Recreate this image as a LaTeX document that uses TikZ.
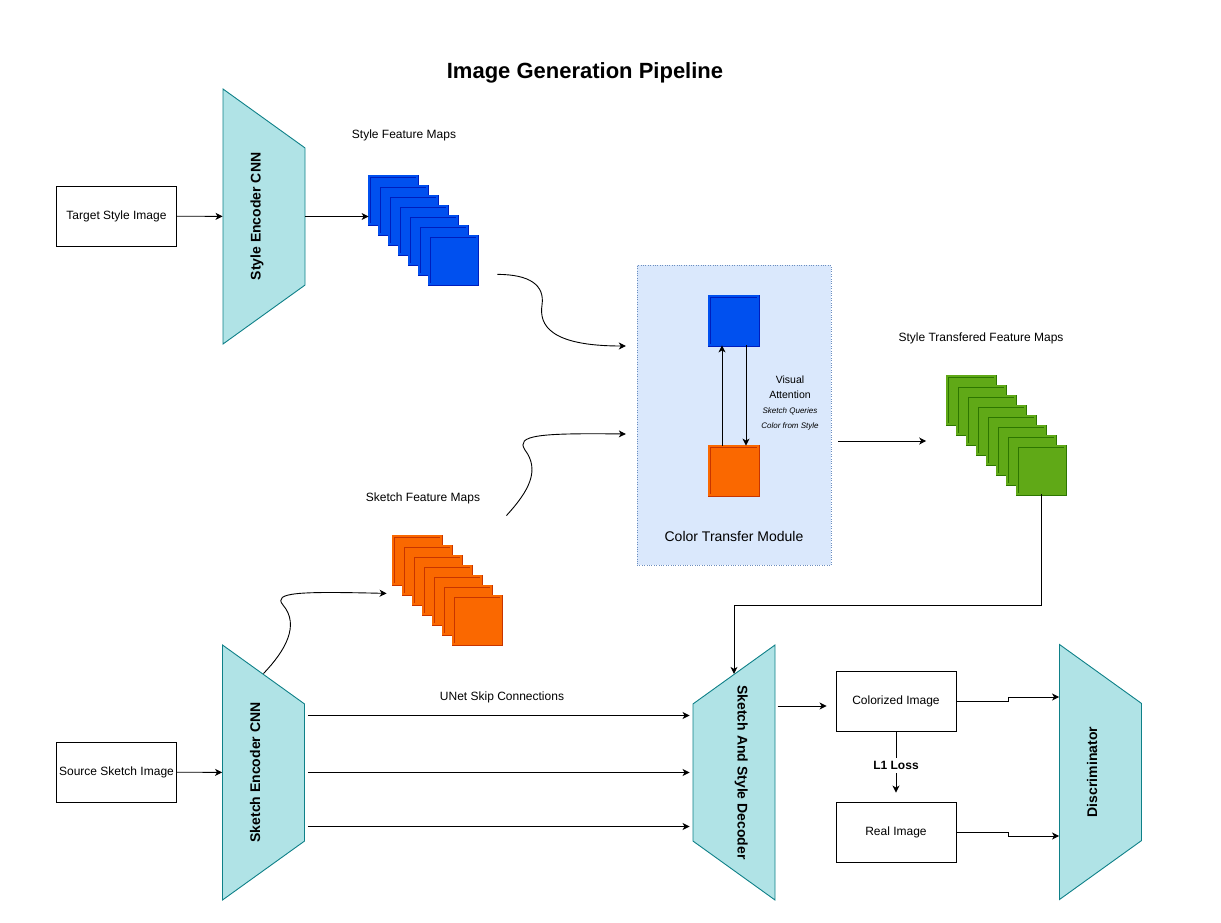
\documentclass[tikz,border=0pt]{standalone}
\usepackage{xcolor}
\usepackage{fontspec}
\setmainfont{Liberation Sans}
\usetikzlibrary{shapes.geometric,arrows.meta}

\definecolor{encfill}{HTML}{B0E3E6}
\definecolor{encline}{HTML}{0E8088}
\definecolor{modfill}{HTML}{DAE8FC}
\definecolor{modline}{HTML}{6C8EBF}
\definecolor{bluefill}{HTML}{0050EF}
\definecolor{blueline}{HTML}{001DBC}
\definecolor{orangefill}{HTML}{FA6800}
\definecolor{orangeline}{HTML}{C73500}
\definecolor{greenfill}{HTML}{60A917}
\definecolor{greenline}{HTML}{2D7600}

% label inside a trapezium, kept from widening it
\newcommand{\enctext}[1]{\makebox[0pt]{#1}}

\begin{document}
\begin{tikzpicture}[x=1pt,y=-1pt,every node/.append style={font=\fontsize{12}{14}\selectfont}]
    % Define styles
    \tikzset{
        imgbox/.style={rectangle, draw, line width=0.9pt, minimum width=120, minimum height=60, inner sep=0pt},
        encoder/.style={trapezium, trapezium left angle=125.7, trapezium right angle=125.7, trapezium stretches body, minimum width=255, inner xsep=0pt, inner ysep=34.5pt, text height=3pt, text depth=10pt, draw=encline, fill=encfill, line width=0.9pt, font=\fontsize{14}{16}\selectfont\bfseries},
        fmap/.style={rectangle, minimum size=48, inner sep=0pt, line width=0.8pt, double distance=1.4pt},
        bluemap/.style={fmap, draw=blueline, double=bluefill, fill=bluefill},
        orangemap/.style={fmap, draw=orangeline, double=orangefill, fill=orangefill},
        greenmap/.style={fmap, draw=greenline, double=greenfill, fill=greenfill},
        module/.style={rectangle, draw=modline, fill=modfill, dotted, minimum width=194, minimum height=300},
        arrow/.style={-{Stealth[length=7pt,width=7pt,inset=2pt]}, line width=0.9pt}
    }
    \useasboundingbox (0,0) rectangle (1221,923);

    % Nodes
    \node[font=\fontsize{22}{26}\selectfont\bfseries] (title) at (585,73) {Image Generation Pipeline};
    \node[imgbox] (target) at (116.5,216) {Target Style Image};
    \node[encoder, rotate=90] (styleenc) at (264,216.5) {\enctext{Style Encoder CNN}};
    \node[imgbox] (source) at (116.5,772) {Source Sketch Image};
    \node[encoder, rotate=90] (sketchenc) at (263.5,772.5) {\enctext{Sketch Encoder CNN}};
    \node[encoder, rotate=-90] (decoder) at (734,772.5) {\enctext{Sketch And Style Decoder}};
    \node[encoder, rotate=90] (disc) at (1100.5,772) {\enctext{Discriminator}};
    \node[imgbox] (colorized) at (896,701) {Colorized Image};
    \node[imgbox] (real) at (896,832) {Real Image};

    \node (stylelabel) at (404,135) {Style Feature Maps};
    \foreach \i in {1,...,7}
        \node[bluemap] (blue\i) at ({393+10*(\i-1)},{200+10*(\i-1)}) {};
    \node (sketchlabel) at (423,498) {Sketch Feature Maps};
    \foreach \i in {1,...,7}
        \node[orangemap] (orange\i) at ({417+10*(\i-1)},{560+10*(\i-1)}) {};
    \node (greenlabel) at (981,338) {Style Transfered Feature Maps};
    \foreach \i in {1,...,8}
        \node[greenmap] (green\i) at ({971+10*(\i-1)},{400+10*(\i-1)}) {};

    \node[module] (ctm) at (734,415) {};
    \node[font=\fontsize{14}{16}\selectfont] (ctmtext) at (734,536) {Color Transfer Module};
    \node[bluemap, minimum size=49] (attnstyle) at (733.5,320.5) {};
    \node[orangemap, minimum size=49] (attnsketch) at (733.5,470.5) {};
    \node[align=center, font=\fontsize{10.5}{15}\selectfont] (attntext) at (790,403) {Visual\\Attention\\{\fontsize{8}{12}\selectfont\itshape Sketch Queries}\\{\fontsize{8}{12}\selectfont\itshape Color from Style}};
    \node (skiplabel) at (502,697) {UNet Skip Connections};

    % Arrows
    \draw[arrow] (target) -- (styleenc);
    \draw[arrow] (styleenc) -- (styleenc -| blue1.west);
    \draw[arrow] (source) -- (sketchenc);
    \draw[arrow] ([xshift=20pt,yshift=10pt]blue7.south east) .. controls +(32,0) and +(3,-20) .. (542,305)
        .. controls +(-3,20) and +(-76,0) .. ([xshift=-11pt,yshift=69pt]ctm.west);
    \draw[arrow] ([xshift=65pt,yshift=20pt]orange1.north east) .. controls +(23,-25) and +(15,20) .. (525,450)
        .. controls +(-10,-15) and +(-86,-1) .. ([xshift=-11pt,yshift=-19pt]ctm.west);
    \draw[arrow] ([yshift=99pt]sketchenc.center) .. controls +(22,-23) and +(17,20) .. (283,605)
        .. controls +(-11,-13) and +(-86,-2) .. ([xshift=-6pt,yshift=-9pt]orange1.south west);
    \draw[arrow] ([xshift=-11.5pt]attnsketch.north) -- ([xshift=-11.5pt]attnstyle.south);
    \draw[arrow] ([xshift=12.5pt]attnstyle.south) -- ([xshift=12.5pt]attnsketch.north);
    \draw[arrow] ([xshift=7pt,yshift=-26pt]ctm.east) -- ++(88,0);
    \draw[arrow] (green8.south) -- ++(0,111) -| (decoder);
    \foreach \dy in {57,0,-54}
        \draw[arrow] ([xshift=3pt,yshift=\dy pt]sketchenc.south) -- ([xshift=-3pt,yshift=\dy pt]decoder.south);
    \draw[arrow] ([xshift=-58pt,yshift=-5pt]colorized.west) -- ++(49,0);
    \draw[arrow] (colorized) -- ([yshift=9pt]real.north) node[pos=0.55, fill=white, font=\fontsize{12}{14}\selectfont\bfseries] {L1 Loss};
    \draw[arrow] (colorized.east) -- ++(52,0) |- ([yshift=75pt]disc.north);
    \draw[arrow] (real.east) -- ++(52,0) |- ([yshift=-64pt]disc.north);
\end{tikzpicture}
\end{document}
